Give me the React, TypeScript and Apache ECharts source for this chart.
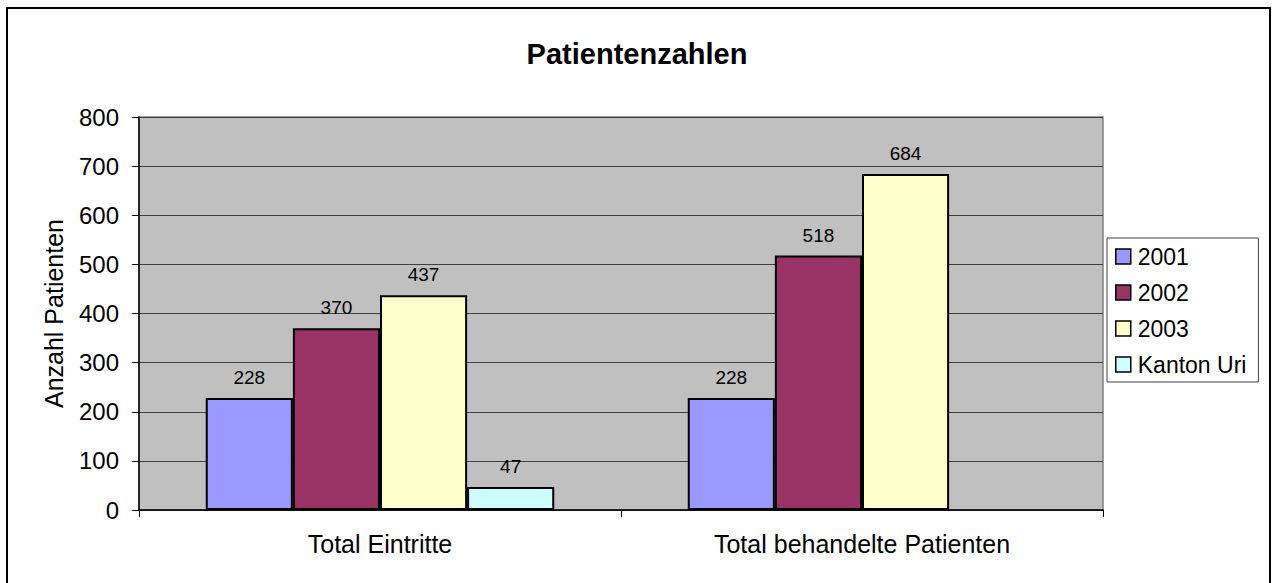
import React, { useEffect, useRef } from "react";
import * as echarts from "echarts";

const categories = ["Total Eintritte", "Total behandelte Patienten"];
const seriesNames = ["2001", "2002", "2003", "Kanton Uri"];
const values2001 = [228, 228];
const values2002 = [370, 518];
const values2003 = [437, 684];
const valuesKantonUri: (number | null)[] = [47, null];
const seriesColors = ["#9999FF", "#993366", "#FFFFCC", "#CCFFFF"];
const yTicks = { min: 0, max: 800, interval: 100 };

const FONT = "'Liberation Sans', Arial, sans-serif";

export default function App() {
  const ref = useRef<HTMLDivElement>(null);
  useEffect(() => {
    if (!ref.current) return;
    const chart = echarts.init(ref.current, undefined, { renderer: "svg" });
    const allValues = [values2001, values2002, values2003, valuesKantonUri];
    chart.setOption({
      animation: false,
      backgroundColor: "#FFFFFF",
      textStyle: { fontFamily: FONT, color: "#000" },
      title: {
        text: "Patientenzahlen",
        left: "center",
        top: 34,
        textStyle: { fontFamily: FONT, fontSize: 29, fontWeight: "bold", color: "#000" },
      },
      graphic: [
        {
          type: "rect",
          shape: { x: 7, y: 8, width: 1263, height: 700 },
          style: { fill: "none", stroke: "#000", lineWidth: 2 },
          silent: true,
          z: 100,
        },
      ],
      legend: {
        orient: "vertical",
        left: 1107,
        top: 238,
        data: seriesNames,
        icon: "rect",
        itemWidth: 15,
        itemHeight: 15,
        itemGap: 13,
        padding: [7, 12, 6, 8],
        borderColor: "#404040",
        borderWidth: 1,
        backgroundColor: "#fff",
        itemStyle: { borderColor: "#000", borderWidth: 1.5 },
        textStyle: {
          fontFamily: FONT,
          fontSize: 23,
          color: "#000",
          padding: [0, 0, 0, 2],
        },
      },
      grid: {
        left: 139,
        top: 117,
        right: 1274 - 1103,
        bottom: 583 - 510,
        show: true,
        backgroundColor: "#C0C0C0",
        borderColor: "#808080",
        borderWidth: 1.5,
        containLabel: false,
      },
      xAxis: {
        type: "category",
        data: categories,
        axisLine: { show: true, lineStyle: { color: "#000", width: 1.5 } },
        axisTick: { show: true, length: 7, lineStyle: { color: "#000", width: 1 } },
        axisLabel: { fontFamily: FONT, fontSize: 25, color: "#000", margin: 21 },
        splitLine: { show: false },
      },
      yAxis: {
        type: "value",
        min: yTicks.min,
        max: yTicks.max,
        interval: yTicks.interval,
        name: "Anzahl Patienten",
        nameLocation: "middle",
        nameGap: 73,
        nameRotate: 90,
        nameTextStyle: { fontFamily: FONT, fontSize: 25, color: "#000" },
        axisLine: { show: true, lineStyle: { color: "#000", width: 1.5 } },
        axisTick: { show: true, length: 7, inside: false, lineStyle: { color: "#000", width: 1 } },
        axisLabel: { fontFamily: FONT, fontSize: 24, color: "#000", margin: 20 },
        splitLine: { show: true, lineStyle: { color: "#404040", width: 1 } },
      },
      series: seriesNames.map((name, i) => ({
        name,
        type: "bar",
        data: allValues[i].map((v) => (v === null ? "-" : v)),
        barGap: "0%",
        barCategoryGap: "27.7%",
        itemStyle: { color: seriesColors[i], borderColor: "#000", borderWidth: 2 },
        label: {
          show: true,
          position: "top",
          distance: 11,
          fontFamily: FONT,
          fontSize: 19,
          color: "#000",
        },
      })),
    });
    return () => chart.dispose();
  }, []);
  return (
    <div
      ref={ref}
      style={{ position: "absolute", left: 0, top: 0, width: 1274, height: 583 }}
    />
  );
}
